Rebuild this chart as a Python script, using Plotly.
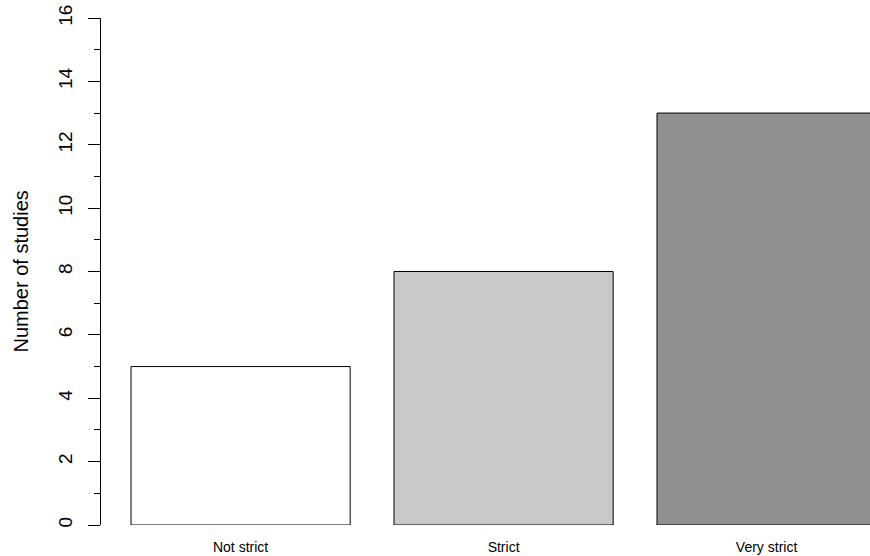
import plotly.graph_objects as go

categories = ["Not strict", "Strict", "Very strict"]
values = [5, 8, 13]
colors = ["#FFFFFF", "#C9C9C9", "#909090"]
y_ticks = [0, 2, 4, 6, 8, 10, 12, 14, 16]

# R barplot layout: width 1, space 0.2
width = 1.0
space = 0.2
centers = [space + width / 2 + i * (width + space) for i in range(len(categories))]

W, H = 870, 556
left, right, top, bottom = 101, 0, 18, 31
plot_w = W - left - right
px_per_unit = 263 / 1.2
x0 = space - 30 / px_per_unit
x1 = x0 + plot_w / px_per_unit

fig = go.Figure()
fig.add_trace(go.Bar(
    x=centers, y=values, width=width,
    marker=dict(color=colors, line=dict(color="#000000", width=1)),
    hoverinfo="skip",
))

fig.update_layout(
    width=W, height=H,
    margin=dict(l=left, r=right, t=top, b=bottom, pad=0, autoexpand=False),
    plot_bgcolor="#FFFFFF", paper_bgcolor="#FFFFFF",
    showlegend=False,
    font=dict(family="Liberation Sans, Arial, sans-serif", color="#000000"),
    xaxis=dict(
        range=[x0, x1], showgrid=False, zeroline=False, showline=False,
        tickvals=centers, ticktext=categories, ticks="",
        tickfont=dict(size=14), ticklabelstandoff=12, automargin=False,
    ),
    yaxis=dict(
        range=[0, 16], showgrid=False, zeroline=False,
        showline=True, linecolor="#000000", linewidth=1,
        tickvals=y_ticks, ticktext=[str(v) for v in y_ticks],
        ticks="outside", ticklen=12, tickcolor="#000000", tickwidth=1,
        tickangle=-90, tickfont=dict(size=19), ticklabelstandoff=8,
        automargin=False,
        minor=dict(dtick=1, tick0=0, ticks="outside", ticklen=6,
                   tickcolor="#000000", tickwidth=1, showgrid=False),
    ),
    annotations=[dict(
        text="Number of studies", textangle=-90,
        xref="paper", yref="paper",
        x=(20 - left) / plot_w, y=0.5, xanchor="center", yanchor="middle",
        showarrow=False, font=dict(size=20),
    )],
)

fig.write_html(
    "out.html",
    config={"displayModeBar": False},
    post_script="document.body.style.margin='0';document.body.style.overflow='hidden';",
)
